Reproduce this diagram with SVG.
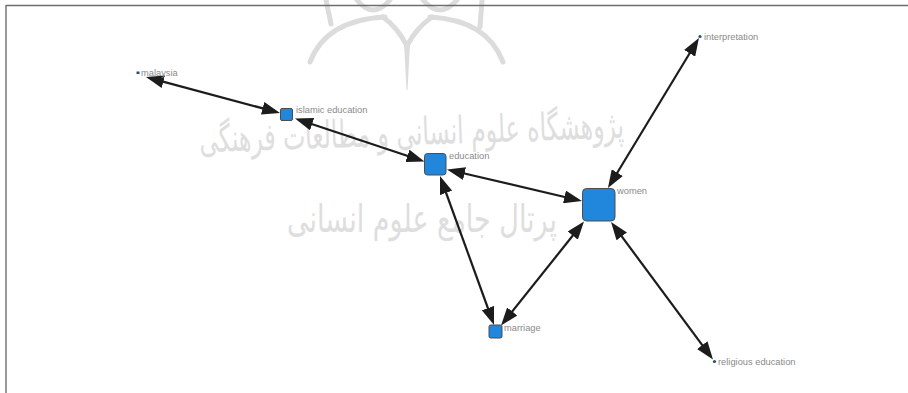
<svg xmlns="http://www.w3.org/2000/svg" width="908" height="393" viewBox="0 0 908 393">
<style>
.lbl{font-family:"Liberation Sans",Arial,sans-serif;font-size:9.3px;fill:#8a8a8a}
.nd{fill:#2187dc;stroke:#4d4d4d;stroke-width:1}
.dot{fill:#23507d}
.edge{stroke:#1c1c1c;stroke-width:2.2;fill:none;marker-start:url(#arr);marker-end:url(#arr)}
.wm{fill:none;stroke:#dcdcdc;stroke-width:5;stroke-linecap:round}
.wmt{font-family:"DejaVu Sans",sans-serif;fill:#dedede;font-size:38px}
</style>
<defs>
<marker id="arr" viewBox="0 0 18 13" refX="10" refY="6.5" markerWidth="18" markerHeight="13" markerUnits="userSpaceOnUse" orient="auto-start-reverse">
<path d="M0,0 L18,6.5 L0,13 z" fill="#1c1c1c"/>
</marker>
</defs>
<rect x="0" y="0" width="908" height="393" fill="#ffffff"/>
<g id="watermark">
<path class="wm" d="M310,62 Q326,20 385,17"/>
<path class="wm" d="M503,62 Q487,20 430,17"/>
<path class="wm" d="M383,17 Q398,28 407,46"/>
<path class="wm" d="M432,17 Q416,28 407,46"/>
<path d="M404,44 L410,44 L407.5,90 L406.5,90 z" fill="#dcdcdc"/>
<path class="wm" d="M357,0 Q373,20 390,0"/>
<path class="wm" d="M423,0 Q440,20 457,0"/>
<path class="wm" d="M326,0 L331,24"/>
<path class="wm" d="M482,0 L480,27"/>
<text class="wmt" x="412" y="145" font-size="42" text-anchor="middle" textLength="425" lengthAdjust="spacingAndGlyphs" transform="rotate(-2 412 145)">پژوهشگاه علوم انسانی و مطالعات فرهنگی</text>
<text class="wmt" x="422" y="232" text-anchor="middle" font-size="46" textLength="270" lengthAdjust="spacingAndGlyphs">پرتال جامع علوم انسانی</text>
</g>
<g id="frame" stroke="#6e6e6e" stroke-width="1.4">
<line x1="6" y1="5.5" x2="908" y2="5.5"/>
<line x1="6" y1="5" x2="6" y2="393"/>
</g>
<g id="connectors">
<line class="edge" x1="153.7" y1="79.1" x2="272.3" y2="110.9"/>
<line class="edge" x1="302.6" y1="121.0" x2="416.9" y2="159.0"/>
<line class="edge" x1="454.8" y1="171.3" x2="574.2" y2="199.2"/>
<line class="edge" x1="442.7" y1="183.5" x2="491.3" y2="317.5"/>
<line class="edge" x1="579.0" y1="227.8" x2="506.0" y2="319.3"/>
<line class="edge" x1="612.1" y1="181.2" x2="694.8" y2="44.8"/>
<line class="edge" x1="615.8" y1="228.4" x2="708.2" y2="353.1"/>
</g>
<g id="node-malaysia">
<rect class="dot" x="136.5" y="71.5" width="3" height="2.5"/>
<text class="lbl" x="141" y="76">malaysia</text>
</g>
<g id="node-islamic-education">
<rect class="nd" x="280.5" y="108.5" width="12" height="12" rx="1.5"/>
<text class="lbl" x="296" y="113">islamic education</text>
</g>
<g id="node-education">
<rect class="nd" x="424.5" y="153.5" width="21.5" height="21.5" rx="3"/>
<text class="lbl" x="449" y="159">education</text>
</g>
<g id="node-women">
<rect class="nd" x="582.5" y="188.5" width="32.5" height="32.5" rx="4"/>
<text class="lbl" x="617" y="194">women</text>
</g>
<g id="node-marriage">
<rect class="nd" x="489" y="325" width="13" height="13" rx="1.5"/>
<text class="lbl" x="504" y="331">marriage</text>
</g>
<g id="node-interpretation">
<circle class="dot" cx="700" cy="36.5" r="1.6"/>
<text class="lbl" x="704" y="39.5">interpretation</text>
</g>
<g id="node-religious-education">
<circle class="dot" cx="714.5" cy="361.5" r="1.6"/>
<text class="lbl" x="718" y="365">religious education</text>
</g>
</svg>
